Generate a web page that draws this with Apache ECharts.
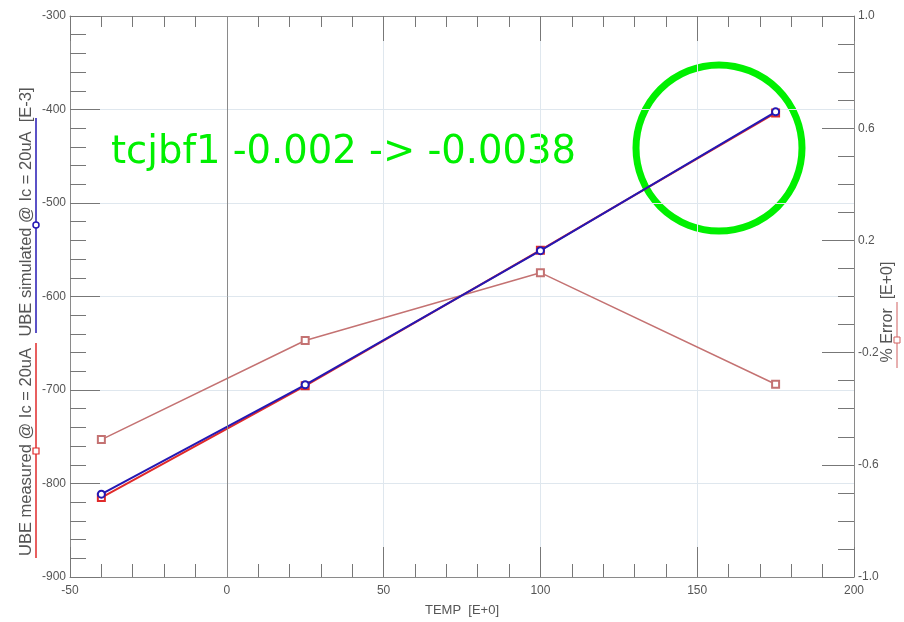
<!DOCTYPE html>
<html>
<head>
<meta charset="utf-8">
<script src="https://cdn.jsdelivr.net/npm/echarts@6/dist/echarts.min.js"></script>
<style>html,body{margin:0;padding:0;background:#fff}#c{width:904px;height:622px}</style>
</head>
<body>
<div id="c"></div>
<script>
// ---- data ----
const temps = [-40, 25, 100, 175];
const ubeSimulated = [-811.4, -694.4, -551.0, -402.5];
const ubeMeasured = [-815.0, -695.5, -550.5, -403.7];
const errorPct = [-0.51, -0.157, 0.085, -0.313];
const annotationText = 'tcjbf1 -0.002 -> -0.0038';
const leftName1 = 'UBE measured @ Ic = 20uA';
const leftName2 = 'UBE simulated @ Ic = 20uA  [E-3]';
const rightName = '% Error  [E+0]';
const xName = 'TEMP  [E+0]';

const pair = (xs, ys) => xs.map((x, i) => [x, ys[i]]);

const chart = echarts.init(document.getElementById('c'));
const axisGray = '#8a8a8a';
const labelStyle = { color: '#555', fontFamily: 'Liberation Sans', fontSize: 12 };

chart.setOption({
  animation: false,
  grid: { left: 70, right: 50, top: 16, bottom: 44 },
  xAxis: [{
    type: 'value', position: 'bottom', min: -50, max: 200, interval: 50,
    name: xName, nameLocation: 'middle', nameGap: 27,
    nameTextStyle: { color: '#555', fontFamily: 'Liberation Sans', fontSize: 13 },
    axisLine: { onZero: false, lineStyle: { color: axisGray } },
    axisTick: { inside: true, length: 30, lineStyle: { color: '#777' } },
    minorTick: { show: true, splitNumber: 5, length: 13, lineStyle: { color: '#777' } },
    axisLabel: Object.assign({ margin: 8 }, labelStyle),
    splitLine: { show: true, lineStyle: { color: '#dfe7ee' } }
  }, {
    type: 'value', position: 'top', min: -50, max: 200, interval: 50,
    axisLine: { onZero: false, lineStyle: { color: axisGray } },
    axisTick: { inside: true, length: 25, lineStyle: { color: '#777' } },
    minorTick: { show: true, splitNumber: 5, length: 11, lineStyle: { color: '#777' } },
    axisLabel: { show: false },
    splitLine: { show: false }
  }],
  yAxis: [{
    type: 'value', position: 'left', min: -900, max: -300, interval: 100,
    axisLine: { show: true, onZero: false, lineStyle: { color: axisGray } },
    axisTick: { show: true, inside: true, length: 30, lineStyle: { color: '#777' } },
    minorTick: { show: true, splitNumber: 5, length: 16, lineStyle: { color: '#777' } },
    axisLabel: Object.assign({ margin: 4 }, labelStyle),
    splitLine: { show: true, lineStyle: { color: '#dfe7ee' } }
  }, {
    type: 'value', position: 'right', min: -1.0, max: 1.0, interval: 0.4,
    axisLine: { show: true, onZero: false, lineStyle: { color: axisGray } },
    axisTick: { show: true, inside: true, length: 32, lineStyle: { color: '#777' } },
    minorTick: { show: true, splitNumber: 4, length: 16, lineStyle: { color: '#777' } },
    axisLabel: Object.assign({ margin: 4, formatter: v => v.toFixed(1) }, labelStyle),
    splitLine: { show: false }
  }],
  series: [{
    name: 'measured', type: 'line', xAxisIndex: 0, yAxisIndex: 0,
    data: pair(temps, ubeMeasured),
    symbol: 'emptyRect', symbolSize: 7,
    lineStyle: { color: '#e02a2a', width: 2 },
    itemStyle: { color: '#e02a2a', borderWidth: 1.2 },
    markLine: {
      silent: true, symbol: 'none', label: { show: false },
      lineStyle: { color: '#8a8a8a', type: 'solid', width: 1 },
      data: [{ xAxis: 0 }]
    },
    z: 2
  }, {
    name: 'simulated', type: 'line', xAxisIndex: 0, yAxisIndex: 0,
    data: pair(temps, ubeSimulated),
    symbol: 'emptyCircle', symbolSize: 7,
    lineStyle: { color: '#2418b4', width: 2 },
    itemStyle: { color: '#2418b4', borderWidth: 1.5 },
    z: 3
  }, {
    name: 'error', type: 'line', xAxisIndex: 0, yAxisIndex: 1,
    data: pair(temps, errorPct),
    symbol: 'emptyRect', symbolSize: 7,
    lineStyle: { color: '#c47272', width: 1.5 },
    itemStyle: { color: '#c47272', borderWidth: 1.2 },
    z: 2
  }],
  graphic: [
    { type: 'text', x: 26, y: 452, rotation: Math.PI / 2,
      style: { text: leftName1, font: '16.5px "Liberation Sans"', fill: '#555', align: 'center', verticalAlign: 'middle' } },
    { type: 'text', x: 26, y: 212, rotation: Math.PI / 2,
      style: { text: leftName2, font: '16.5px "Liberation Sans"', fill: '#555', align: 'center', verticalAlign: 'middle' } },
    { type: 'line', shape: { x1: 36, y1: 118, x2: 36, y2: 333 }, style: { stroke: '#2418b4', lineWidth: 1.5 } },
    { type: 'circle', shape: { cx: 36, cy: 225, r: 3 }, style: { stroke: '#2418b4', fill: '#fff', lineWidth: 1.5 } },
    { type: 'line', shape: { x1: 36, y1: 343, x2: 36, y2: 558 }, style: { stroke: '#e02a2a', lineWidth: 1.5 } },
    { type: 'rect', shape: { x: 33, y: 448, width: 6, height: 6 }, style: { stroke: '#e02a2a', fill: '#fff', lineWidth: 1.2 } },
    { type: 'text', x: 888, y: 312, rotation: Math.PI / 2,
      style: { text: rightName, font: '16px "Liberation Sans"', fill: '#555', align: 'center', verticalAlign: 'middle' } },
    { type: 'line', shape: { x1: 897, y1: 302, x2: 897, y2: 368 }, style: { stroke: '#d06060', lineWidth: 1 } },
    { type: 'rect', shape: { x: 894, y: 337, width: 6, height: 6 }, style: { stroke: '#d06060', fill: '#fff', lineWidth: 1 } },
    { type: 'text', x: 111, y: 153,
      style: { text: annotationText, font: '38.5px "DejaVu Sans"', fill: '#00f000', verticalAlign: 'middle' } },
    { type: 'circle', shape: { cx: 719, cy: 148, r: 83 }, style: { stroke: '#00f000', fill: 'none', lineWidth: 7 } }
  ]
});
</script>
</body>
</html>
